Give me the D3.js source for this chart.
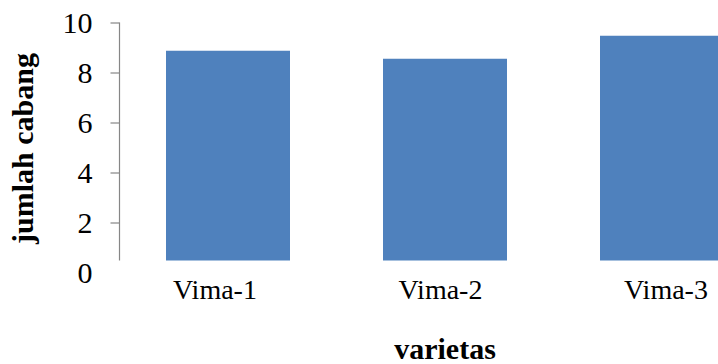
<!DOCTYPE html>
<html>
<head>
<meta charset="utf-8">
<script src="https://cdn.jsdelivr.net/npm/d3@7"></script>
<style>
  html, body { margin: 0; padding: 0; background: #fff; }
  svg { display: block; }
  text { font-family: "Liberation Serif", "Times New Roman", serif; fill: #000; }
</style>
</head>
<body>
<svg id="chart" width="718" height="364"></svg>
<script>
// Number of branches per variety
const categories = ["Vima-1", "Vima-2", "Vima-3"];
const values = [8.87, 8.55, 9.47];
const tickValues = [0, 2, 4, 6, 8, 10];

const svg = d3.select("#chart");
const W = 718, H = 364;

const axisX = 119.5;
const plotTop = 22.5;
const plotBottom = 260.5;

const y = d3.scaleLinear().domain([0, 10]).range([272.5, plotTop]);

// category bands run past the right edge of the canvas
const x = d3.scaleBand()
  .domain(categories)
  .range([axisX, 770.5])
  .paddingInner(0.75 / 1.75)
  .paddingOuter(0.75 / 3.5);

const labelX = d3.scalePoint().domain(categories).range([215, 666]);

svg.append("defs").append("clipPath").attr("id", "clip")
  .append("rect").attr("x", 0).attr("y", 0).attr("width", W).attr("height", H);

// bars
svg.append("g").attr("clip-path", "url(#clip)")
  .selectAll("rect")
  .data(values)
  .join("rect")
  .attr("x", (d, i) => x(categories[i]))
  .attr("width", x.bandwidth())
  .attr("y", d => y(d))
  .attr("height", d => plotBottom - y(d))
  .attr("fill", "#4F81BD");

// value axis
const yAxis = d3.axisLeft(y)
  .tickValues(tickValues)
  .tickSize(9)
  .tickSizeOuter(0)
  .tickPadding(18)
  .tickFormat(d3.format("d"));

const gy = svg.append("g")
  .attr("transform", `translate(${axisX},0)`)
  .call(yAxis);
gy.select(".domain").remove();
gy.selectAll(".tick line").attr("stroke", "#868686").attr("stroke-width", 1.2)
  .filter(d => d === 0).remove();
gy.selectAll(".tick text")
  .attr("font-size", 30)
  .attr("font-family", "Liberation Serif, Times New Roman, serif")
  .attr("fill", "#000");
gy.append("line")
  .attr("x1", 0).attr("x2", 0)
  .attr("y1", y(10)).attr("y2", plotBottom)
  .attr("stroke", "#868686").attr("stroke-width", 1.2);

// category labels
svg.append("g")
  .selectAll("text")
  .data(categories)
  .join("text")
  .attr("x", d => labelX(d))
  .attr("y", 299.3)
  .attr("text-anchor", "middle")
  .attr("font-size", 28)
  .text(d => d);

// axis titles
svg.append("text")
  .attr("transform", "translate(33,148.5) rotate(-90)")
  .attr("text-anchor", "middle")
  .attr("font-weight", "bold")
  .attr("font-size", 30)
  .text("jumlah cabang");

svg.append("text")
  .attr("x", 445)
  .attr("y", 359)
  .attr("text-anchor", "middle")
  .attr("font-weight", "bold")
  .attr("font-size", 30)
  .text("varietas");
</script>
</body>
</html>
